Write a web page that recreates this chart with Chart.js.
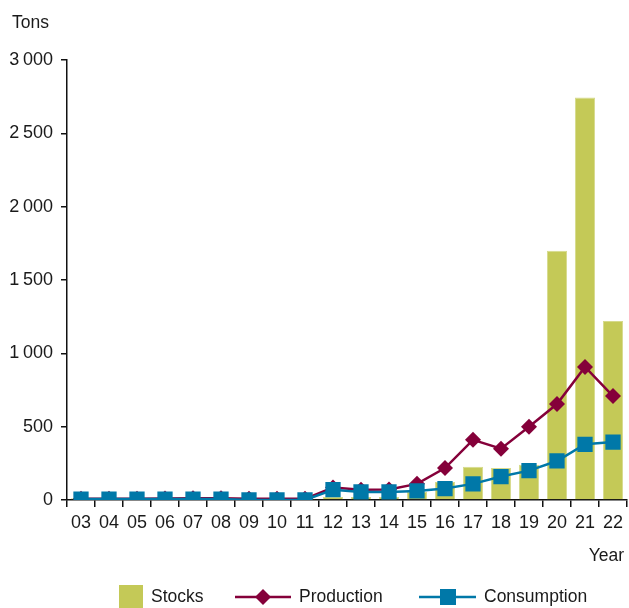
<!DOCTYPE html>
<html>
<head>
<meta charset="utf-8">
<script src="https://cdn.jsdelivr.net/npm/chart.js@4"></script>
<style>
	body { margin: 0; background: #fff; }
	#wrap { width: 629px; height: 608px; position: relative; }
</style>
</head>
<body>
<div id="wrap"><canvas id="stocksChart"></canvas></div>
<script>
// values (tons)
const years = ['03', '04', '05', '06', '07', '08', '09', '10', '11', '12', '13', '14', '15', '16', '17', '18', '19', '20', '21', '22'];
const stocks = [12, 6, 6, 6, 6, 6, 4, 4, 6, 20, 20, 20, 55, 122, 227, 218, 240, 1700, 2745, 1220];
const production = [8, 8, 8, 10, 12, 12, 8, 8, 8, 85, 70, 72, 110, 218, 410, 350, 500, 654, 907, 709];
const consumption = [6, 6, 6, 6, 6, 6, 0, 0, 0, 70, 55, 55, 62, 78, 110, 160, 200, 266, 380, 395];
const yTicks = [0, 500, 1000, 1500, 2000, 2500, 3000];

const FONT = '"Liberation Sans", Arial, sans-serif';
const TXT = '#1a1a1a';
const STOCK_COL = '#c4c957';
const PROD_COL = '#85003a';
const CONS_COL = '#0078a8';

function fmt(v) {
	return String(v).replace(/\B(?=(\d{3})+(?!\d))/g, '\u2009');
}

// "Tons", "Year" and the legend at the bottom
const extras = {
	id: 'extras',
	afterDraw(chart) {
		const ctx = chart.ctx;
		ctx.save();
		ctx.fillStyle = TXT;
		ctx.font = '17.5px ' + FONT;
		ctx.textBaseline = 'middle';
		ctx.textAlign = 'left';
		ctx.fillText('Tons', 12, 23);
		ctx.textAlign = 'right';
		ctx.fillText('Year', 624, 556);

		// legend
		let y = 597;
		ctx.textAlign = 'left';
		ctx.fillStyle = STOCK_COL;
		ctx.fillRect(119, 585, 24, 23);
		ctx.fillStyle = TXT;
		ctx.fillText('Stocks', 151, y);

		ctx.strokeStyle = PROD_COL;
		ctx.lineWidth = 2.5;
		ctx.beginPath(); ctx.moveTo(235, y); ctx.lineTo(291, y); ctx.stroke();
		ctx.fillStyle = PROD_COL;
		ctx.beginPath();
		ctx.moveTo(263, y - 8); ctx.lineTo(271, y); ctx.lineTo(263, y + 8); ctx.lineTo(255, y);
		ctx.closePath(); ctx.fill();
		ctx.fillStyle = TXT;
		ctx.fillText('Production', 299, y);

		ctx.strokeStyle = CONS_COL;
		ctx.beginPath(); ctx.moveTo(419, y); ctx.lineTo(476, y); ctx.stroke();
		ctx.fillStyle = CONS_COL;
		ctx.fillRect(440, y - 8, 16, 16);
		ctx.fillStyle = TXT;
		ctx.fillText('Consumption', 484, y);
		ctx.restore();
	}
};

let canvas = document.getElementById('stocksChart');

new Chart(canvas, {
	type: 'bar',
	data: {
		labels: years,
		datasets: [
			{
				type: 'line',
				label: 'Consumption',
				data: consumption,
				borderColor: CONS_COL,
				backgroundColor: CONS_COL,
				borderWidth: 2.5,
				pointStyle: 'rect',
				pointRadius: 10.8,
				pointBorderWidth: 0,
				tension: 0,
				order: 1
			},
			{
				type: 'line',
				label: 'Production',
				data: production,
				borderColor: PROD_COL,
				backgroundColor: PROD_COL,
				borderWidth: 2.5,
				pointStyle: 'rectRot',
				pointRadius: 8,
				pointBorderWidth: 0,
				tension: 0,
				order: 2
			},
			{
				label: 'Stocks',
				data: stocks,
				backgroundColor: STOCK_COL,
				borderColor: '#d6da8c',
				borderWidth: 1,
				barPercentage: 0.72,
				categoryPercentage: 1,
				order: 3
			}
		]
	},
	options: {
		responsive: true,
		maintainAspectRatio: false,
		animation: false,
		layout: { autoPadding: false, padding: { top: 60, right: 2, left: 0, bottom: 0 } },
		plugins: {
			legend: { display: false },
			tooltip: { enabled: false }
		},
		scales: {
			x: {
				offset: true,
				grid: {
					offset: true,
					drawOnChartArea: false,
					drawTicks: true,
					tickLength: 7,
					tickColor: '#111',
					lineWidth: 1.5
				},
				border: { display: true, color: '#111', width: 1.5 },
				ticks: {
					color: TXT,
					font: { family: FONT, size: 18 },
					padding: 5,
					maxRotation: 0,
					autoSkip: false
				},
				afterFit(scale) {
					scale.height = 108;
					scale.paddingLeft = 0;
					scale.paddingRight = 0;
				}
			},
			y: {
				min: 0,
				max: 3000,
				afterBuildTicks(scale) { scale.ticks = yTicks.map(v => ({ value: v })); },
				grid: {
					drawOnChartArea: false,
					drawTicks: true,
					tickLength: 6,
					tickColor: '#111',
					lineWidth: 1.5
				},
				border: { display: true, color: '#111', width: 1.5 },
				ticks: {
					color: TXT,
					font: { family: FONT, size: 18 },
					padding: 8,
					callback: v => fmt(v)
				},
				afterFit(scale) {
					scale.width = 67;
					scale.paddingTop = 0;
					scale.paddingBottom = 0;
				}
			}
		}
	},
	plugins: [extras]
});
</script>
</body>
</html>
